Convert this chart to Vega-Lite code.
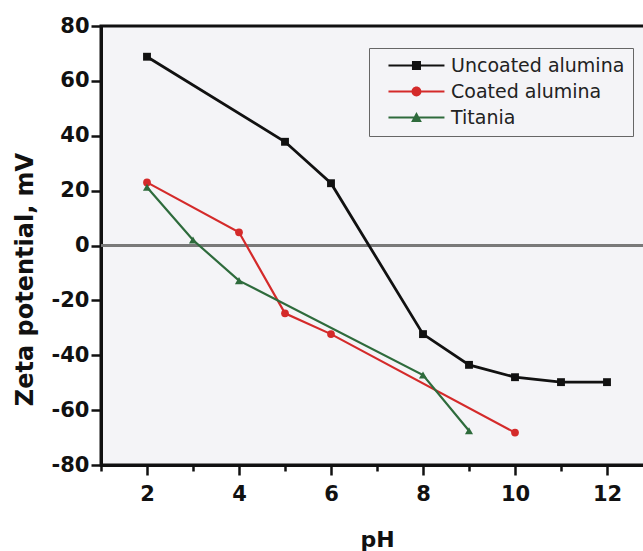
{
  "$schema": "https://vega.github.io/schema/vega-lite/v6.json",
  "width": 552,
  "height": 439,
  "autosize": {"type": "none"},
  "padding": {"left": 101, "top": 26, "right": 0, "bottom": 86},
  "background": "white",
  "config": {
    "view": {"fill": "#f4f4f7", "stroke": "#111111", "strokeWidth": 3},
    "font": "DejaVu Sans",
    "axis": {
      "domainColor": "#111111",
      "domainWidth": 3,
      "tickColor": "#111111",
      "tickWidth": 2.5,
      "labelFont": "DejaVu Sans",
      "labelFontWeight": "bold",
      "labelFontSize": 21,
      "labelColor": "#111111",
      "labelFlush": false,
      "labelOverlap": false,
      "labelBound": false,
      "grid": false,
      "titleFont": "DejaVu Sans",
      "titleFontWeight": "bold",
      "titleColor": "#111111"
    },
    "legend": {
      "orient": "none", "legendX": 268, "legendY": 22, "title": null,
      "padding": 8, "strokeColor": "#666666", "fillColor": "#f4f4f7",
      "labelFont": "DejaVu Sans", "labelFontSize": 19, "labelColor": "#222222",
      "labelLimit": 400, "labelOffset": 55, "rowPadding": 6,
      "symbolSize": 324, "symbolStrokeWidth": 0, "symbolOpacity": 1
    }
  },
  "data": {
    "values": [
      {"pH": 2, "zeta": 68.8, "sample": "Uncoated alumina"},
      {"pH": 5, "zeta": 37.8, "sample": "Uncoated alumina"},
      {"pH": 6, "zeta": 22.7, "sample": "Uncoated alumina"},
      {"pH": 8, "zeta": -32.3, "sample": "Uncoated alumina"},
      {"pH": 9, "zeta": -43.5, "sample": "Uncoated alumina"},
      {"pH": 10, "zeta": -48, "sample": "Uncoated alumina"},
      {"pH": 11, "zeta": -49.8, "sample": "Uncoated alumina"},
      {"pH": 12, "zeta": -49.8, "sample": "Uncoated alumina"},
      {"pH": 2, "zeta": 23, "sample": "Coated alumina"},
      {"pH": 4, "zeta": 4.8, "sample": "Coated alumina"},
      {"pH": 5, "zeta": -24.7, "sample": "Coated alumina"},
      {"pH": 6, "zeta": -32.3, "sample": "Coated alumina"},
      {"pH": 10, "zeta": -68.2, "sample": "Coated alumina"},
      {"pH": 2, "zeta": 21.2, "sample": "Titania"},
      {"pH": 3, "zeta": 2, "sample": "Titania"},
      {"pH": 4, "zeta": -12.8, "sample": "Titania"},
      {"pH": 8, "zeta": -47.2, "sample": "Titania"},
      {"pH": 9, "zeta": -67.5, "sample": "Titania"}
    ]
  },
  "layer": [
    {
      "mark": {"type": "rule", "color": "#7a7a7a", "strokeWidth": 1.5},
      "encoding": {"y": {"datum": 0, "type": "quantitative"}}
    },
    {
      "transform": [{"filter": "datum.sample == 'Uncoated alumina'"}],
      "mark": {"type": "line", "color": "#111111", "strokeWidth": 2.8,
               "point": {"shape": "square", "size": 62, "filled": true, "color": "#111111", "opacity": 1}},
      "encoding": {
        "x": {
          "field": "pH",
          "type": "quantitative",
          "scale": {"domain": [1, 13], "nice": false, "zero": false},
          "axis": {
            "title": "pH",
            "titleFontSize": 22,
            "titlePadding": 25,
            "values": [1, 2, 3, 4, 5, 6, 7, 8, 9, 10, 11, 12, 13],
            "labelExpr": "datum.value % 2 == 0 ? '' + datum.value : ''",
            "tickSize": {"condition": {"test": "datum.value % 2 == 0", "value": 10}, "value": 6},
            "labelPadding": 8
          }
        },
        "y": {
          "field": "zeta",
          "type": "quantitative",
          "scale": {"domain": [-80, 80], "nice": false},
          "axis": {
            "title": "Zeta potential, mV",
            "titleFontSize": 24,
            "titlePadding": 14,
            "titleY": 253,
            "values": [-80, -70, -60, -50, -40, -30, -20, -10, 0, 10, 20, 30, 40, 50, 60, 70, 80],
            "labelExpr": "datum.value % 20 == 0 ? '' + datum.value : ''",
            "tickSize": {"condition": {"test": "datum.value % 20 == 0", "value": 10}, "value": 6},
            "labelPadding": 2
          }
        }
      }
    },
    {
      "transform": [{"filter": "datum.sample == 'Coated alumina'"}],
      "mark": {"type": "line", "color": "#d42a2a", "strokeWidth": 2.2,
               "point": {"shape": "circle", "size": 60, "filled": true, "color": "#d42a2a", "opacity": 1}},
      "encoding": {
        "x": {"field": "pH", "type": "quantitative"},
        "y": {"field": "zeta", "type": "quantitative"}
      }
    },
    {
      "transform": [{"filter": "datum.sample == 'Titania'"}],
      "mark": {"type": "line", "color": "#2e6b3c", "strokeWidth": 2.2,
               "point": {"shape": "triangle-up", "size": 66, "filled": true, "color": "#2e6b3c", "opacity": 1}},
      "encoding": {
        "x": {"field": "pH", "type": "quantitative"},
        "y": {"field": "zeta", "type": "quantitative"}
      }
    },
    {
      "mark": {"type": "point", "filled": true, "size": 0},
      "encoding": {
        "x": {"field": "pH", "type": "quantitative"},
        "y": {"field": "zeta", "type": "quantitative"},
        "color": {
          "field": "sample",
          "type": "nominal",
          "scale": {"domain": ["Uncoated alumina", "Coated alumina", "Titania"], "range": ["#111111", "#d42a2a", "#2e6b3c"]},
          "legend": {"labelExpr": "datum.label + '   '"}
        },
        "shape": {
          "field": "sample",
          "type": "nominal",
          "scale": {
            "domain": ["Uncoated alumina", "Coated alumina", "Titania"],
            "range": [
              "M0.22,-0.11H6.44V0.11H0.22Z M2.83,-0.5H3.83V0.5H2.83Z",
              "M0.22,-0.11H6.44V0.11H0.22Z M2.78,0A0.55,0.55,0,1,1,3.88,0A0.55,0.55,0,1,1,2.78,0Z",
              "M0.22,-0.11H6.44V0.11H0.22Z M3.33,-0.62L3.93,0.5L2.73,0.5Z"
            ]
          },
          "legend": {"labelExpr": "datum.label + '   '"}
        }
      }
    }
  ]
}
